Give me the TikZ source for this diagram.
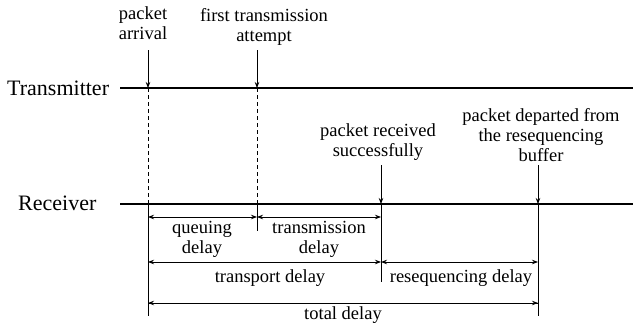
\documentclass[tikz,border=0pt]{standalone}
\usepackage{fontspec}
\setmainfont{Liberation Serif}
\usetikzlibrary{arrows.meta}
\begin{document}
\begin{tikzpicture}[x=1pt,y=-1pt,
  lbl/.style={font=\fontsize{18.5}{20}\selectfont, align=center, inner sep=0pt},
  side/.style={font=\fontsize{22}{24}\selectfont, inner sep=0pt, anchor=west},
  axis/.style={line width=2.6pt},
  tick/.style={line width=0.8pt},
  arr/.style={line width=0.8pt,-{Stealth[length=6pt,width=4.5pt]}},
  darr/.style={line width=0.8pt,{Stealth[length=6pt,width=4.5pt]}-{Stealth[length=6pt,width=4.5pt]}},
  dsh/.style={line width=0.8pt, dash pattern=on 4pt off 3pt}]
\useasboundingbox (0,0) rectangle (633,327);
% side labels
\node[side] (tx) at (7,88) {Transmitter};
\node[side] (rx) at (18,203) {Receiver};
% timelines
\coordinate (T0) at (120,88); \coordinate (T1) at (633,88);
\coordinate (R0) at (120,204); \coordinate (R1) at (633,204);
\draw[axis] (T0) -- (T1);
\draw[axis] (R0) -- (R1);
% event points
\coordinate (At) at (148,88); \coordinate (Ar) at (148,204); \coordinate (Ab) at (148,316);
\coordinate (Ft) at (257,88); \coordinate (Fr) at (257,204); \coordinate (Fb) at (257,231);
\coordinate (Sr) at (381,204); \coordinate (Sb) at (381,282);
\coordinate (Dr) at (538,204); \coordinate (Db) at (538,316);
\coordinate (A0) at (148,50); \coordinate (F0) at (257,50);
\coordinate (S0) at (381,165); \coordinate (D0) at (538,165);
% event labels
\node[lbl] (la) at (143,23) {packet\\arrival};
\node[lbl] (lf) at (264,27) {first transmission\\attempt};
\node[lbl] (ls) at (378,142) {packet received\\successfully};
\node[lbl] (ld) at (541,135) {packet departed from\\the resequencing\\buffer};
% event arrows
\draw[arr] (A0) -- (At);
\draw[arr] (F0) -- (Ft);
\draw[arr] (S0) -- (Sr);
\draw[arr] (D0) -- (Dr);
% dashed and extension lines
\draw[dsh] (At) -- (Ar);
\draw[dsh] (Ft) -- (Fr);
\draw[tick] (Ar) -- (Ab);
\draw[tick] (Fr) -- (Fb);
\draw[tick] (Sr) -- (Sb);
\draw[tick] (Dr) -- (Db);
% dimension arrows
\coordinate (q1) at (148,217); \coordinate (q2) at (257,217); \coordinate (q3) at (381,217);
\coordinate (p1) at (148,262); \coordinate (p2) at (381,262); \coordinate (p3) at (538,262);
\coordinate (t1) at (148,303); \coordinate (t2) at (538,303);
\draw[darr] (q1) -- (q2);
\draw[darr] (q2) -- (q3);
\draw[darr] (p1) -- (p2);
\draw[darr] (p2) -- (p3);
\draw[arr] (t1) -- (t2);
\draw[arr] (t2) -- (t1);
% dimension labels
\node[lbl] (dq) at (202,239) {queuing\\delay};
\node[lbl] (dt) at (319,239) {transmission\\delay};
\node[lbl] (dp) at (270,278) {transport delay};
\node[lbl] (dr) at (461,278) {resequencing delay};
\node[lbl] (dd) at (343,315) {total delay};
\end{tikzpicture}
\end{document}
